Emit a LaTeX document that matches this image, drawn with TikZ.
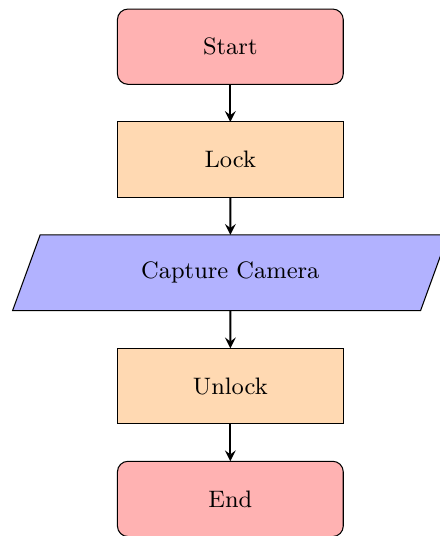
\documentclass[tikz,border=0pt]{standalone}
\usetikzlibrary{arrows.meta, positioning, shapes.geometric}
\tikzset{
  startstop/.style={
    rectangle, rounded corners,
    draw=black, fill=red!30,
    minimum width=3cm, minimum height=1cm,
    outer sep=0pt, align=center, font=\small
  },
  process/.style={
    rectangle, draw=black, fill=orange!30,
    minimum width=3cm, minimum height=1cm,
    outer sep=0pt, align=center, font=\small
  },
  io/.style={
    trapezium, trapezium left angle=70, trapezium right angle=110,
    draw=black, fill=blue!30,
    minimum width=5.8cm, minimum height=1cm,
    outer sep=0pt, align=center, font=\small
  },
  arrow/.style={thick, ->, >=stealth},
}
\begin{document}
\begin{tikzpicture}[node distance=0.5cm]
  \useasboundingbox (-3.06,0.62) rectangle (2.78,-6.5);

  \node[startstop] (start) {Start};
  \node[process, below=of start] (lock) {Lock};
  \node[io, below=of lock] (capture) {Capture Camera};
  \node[process, below=of capture] (unlock) {Unlock};
  \node[startstop, below=of unlock] (stop) {End};

  \draw[arrow] (start) -- (lock);
  \draw[arrow] (lock) -- (capture);
  \draw[arrow] (capture) -- (unlock);
  \draw[arrow] (unlock) -- (stop);
\end{tikzpicture}
\end{document}
